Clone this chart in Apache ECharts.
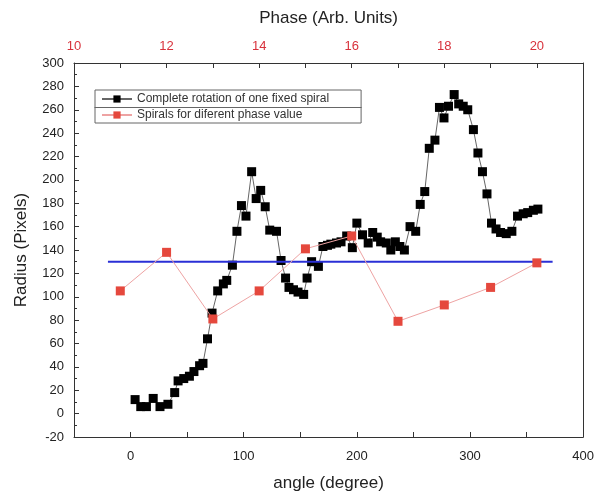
<!DOCTYPE html>
<html>
<head>
<meta charset="utf-8">
<script src="https://cdn.jsdelivr.net/npm/echarts@6/dist/echarts.min.js"></script>
<style>
  html, body { margin: 0; padding: 0; background: #fff; }
  #chart { width: 597px; height: 497px; }
</style>
</head>
<body>
<div id="chart"></div>
<script>
// black series: full rotation of one fixed spiral (angle, radius)
var angles = [4, 9, 14, 20, 26, 33, 39, 42, 47, 52, 56, 61, 64, 68, 72,
  77, 82, 85, 90, 94, 98, 102, 107, 111, 115, 119, 123, 129, 133, 137,
  140, 144, 148, 153, 156, 160, 166, 170, 174, 177, 182, 186, 191, 196, 200,
  205, 210, 214, 218, 221, 226, 230, 234, 238, 242, 247, 252, 256, 260, 264,
  269, 273, 277, 281, 286, 290, 294, 298, 303, 307, 311, 315, 319, 323, 327,
  332, 337, 342, 347, 351, 356, 360]
var radius = [12, 6, 6, 13, 6, 8, 18, 28, 30, 32, 36, 41, 43, 64, 86,
  105, 111, 114, 127, 156, 178, 169, 207, 184, 191, 177, 157, 156, 131, 116,
  108, 106, 104, 102, 116, 130, 126, 143, 144, 145, 146, 147, 152, 142, 163,
  153, 146, 155, 151, 147, 146, 140, 147, 143, 140, 160, 156, 179, 190, 227,
  234, 262, 253, 263, 273, 265, 263, 260, 243, 223, 207, 188, 163, 158, 155,
  154, 156, 169, 171, 172, 174, 175]

// red series: spirals for different phase values (top axis)
var phases = [11, 12, 13, 14, 15, 16, 17, 18, 19, 20]
var phaseRadius = [105, 138, 81, 105, 141, 152, 79, 93, 108, 129]

// blue reference line
var refAngles = [-20, 373]
var refRadius = [130, 130]

var chart = echarts.init(document.getElementById('chart'))

function pairs(xs, ys){
    return xs.map(function(x, i){ return [x, ys[i]] })
}

var font = 'Liberation Sans, Arial, sans-serif'
var tick = { show: true, inside: true, length: 5, lineStyle: { color: '#333' } }

var option = {
    animation: false,
    backgroundColor: '#fff',
    textStyle: { fontFamily: font },
    grid: { left: 74, right: 10, top: 63, bottom: 56, show: false },
    legend: {
        data: ['Complete rotation of one fixed spiral', 'Spirals for diferent phase value'],
        orient: 'vertical',
        left: 95,
        top: 90,
        padding: [3, 32, 2, 6],
        itemGap: 4,
        itemWidth: 30,
        itemHeight: 9,
        borderColor: '#666',
        borderWidth: 1,
        borderRadius: 0,
        textStyle: { fontSize: 12, color: '#333', fontFamily: font }
    },
    xAxis: [{
        type: 'value',
        position: 'bottom',
        min: -50,
        max: 400,
        interval: 50,
        name: 'angle (degree)',
        nameLocation: 'middle',
        nameGap: 38,
        nameTextStyle: { fontSize: 17, color: '#222' },
        axisLine: { show: true, onZero: false, lineStyle: { color: '#333' } },
        axisTick: tick,
        splitLine: { show: false },
        axisLabel: {
            fontSize: 13, color: '#222', margin: 13,
            formatter: function(v){ return v % 100 === 0 ? String(v) : '' }
        }
    }, {
        type: 'value',
        position: 'top',
        min: 10,
        max: 21,
        interval: 1,
        name: 'Phase (Arb. Units)',
        nameLocation: 'middle',
        nameGap: 36,
        nameTextStyle: { fontSize: 17, color: '#222' },
        axisLine: { show: true, onZero: false, lineStyle: { color: '#333' } },
        axisTick: tick,
        splitLine: { show: false },
        axisLabel: {
            fontSize: 13, color: '#d8323c', margin: 10,
            formatter: function(v){ return v % 2 === 0 ? String(v) : '' }
        }
    }],
    yAxis: [{
        type: 'value',
        min: -20,
        max: 300,
        interval: 20,
        name: 'Radius (Pixels)',
        nameLocation: 'middle',
        nameGap: 44,
        nameTextStyle: { fontSize: 17, color: '#222' },
        axisLine: { show: true, onZero: false, lineStyle: { color: '#333' } },
        axisTick: tick,
        minorTick: { show: true, splitNumber: 2, length: 3, lineStyle: { color: '#333' } },
        splitLine: { show: false },
        axisLabel: { fontSize: 13, color: '#222', margin: 10 }
    }, {
        type: 'value',
        position: 'right',
        min: -20,
        max: 300,
        interval: 20,
        axisLine: { show: true, onZero: false, lineStyle: { color: '#333' } },
        axisTick: { show: false },
        splitLine: { show: false },
        axisLabel: { show: false }
    }],
    series: [{
        name: 'Complete rotation of one fixed spiral',
        type: 'line',
        xAxisIndex: 0,
        yAxisIndex: 0,
        data: pairs(angles, radius),
        symbol: 'rect',
        symbolSize: 9,
        itemStyle: { color: '#000' },
        lineStyle: { color: '#666', width: 1 },
        z: 2
    }, {
        name: 'ref',
        type: 'line',
        xAxisIndex: 0,
        yAxisIndex: 0,
        data: pairs(refAngles, refRadius),
        symbol: 'none',
        lineStyle: { color: '#2a2fd6', width: 2 },
        z: 3
    }, {
        name: 'Spirals for diferent phase value',
        type: 'line',
        xAxisIndex: 1,
        yAxisIndex: 0,
        data: pairs(phases, phaseRadius),
        symbol: 'rect',
        symbolSize: 9,
        itemStyle: { color: '#e5483d' },
        lineStyle: { color: '#eea3a3', width: 1 },
        z: 4
    }],
    graphic: [{
        type: 'line',
        shape: { x1: 95, y1: 107, x2: 95, y2: 107 },
        style: { stroke: '#666', lineWidth: 1 },
        id: 'sep'
    }]
}

chart.setOption(option)

// row separator in the legend box, sized from the rendered legend box
var legendView = chart._componentsViews.find(function(v){ return v.type === 'legend.plain' })
if (legendView) {
    var r = legendView.group.getBoundingRect()
    var x0 = legendView.group.x, y0 = legendView.group.y
    var mid = Math.round(y0 + r.y + r.height / 2) + 0.5
    chart.setOption({ graphic: [{ id: 'sep', shape: { x1: x0 + r.x, y1: mid, x2: x0 + r.x + r.width, y2: mid } }] })
}
</script>
</body>
</html>
